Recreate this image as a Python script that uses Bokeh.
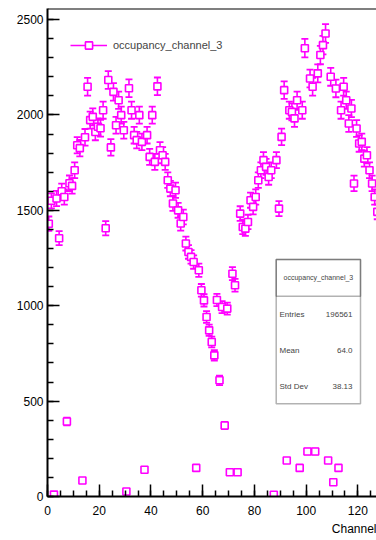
import numpy as np
from bokeh.plotting import figure
from bokeh.models import (Range1d, FixedTicker, Legend, LegendItem, Label, Title,
                          BoxAnnotation, Span, ColumnDataSource)
from bokeh.embed import file_html
from bokeh.resources import INLINE

# Occupancy per readout channel (bin contents of a 128-bin histogram)
channels = list(range(128))
counts = [
    1430, 1550, 10, 1562, 1354, 1600, 1570, 393, 1642, 1628,
    1710, 1841, 1826, 84, 1883, 2148, 1973, 1990, 1911, 1938,
    1930, 2025, 1406, 2183, 1830, 2121, 1946, 2077, 1999, 1920,
    26, 2140, 2025, 1894, 1868, 1999, 1859, 140, 1894, 1780,
    1999, 1754, 2150, 1815, 1789, 1754, 1658, 1614, 1536, 1605,
    1500, 1431, 1465, 1326, 1282, 1256, 1229, 150, 1186, 1081,
    1028, 941, 871, 810, 740, 1030, 609, 993, 372, 985,
    127, 1168, 1107, 127, 1483, 1413, 1404, 1439, 1553, 1518,
    1570, 1658, 1710, 1763, 1728, 1675, 1710, 9, 1763, 1509,
    1885, 2130, 189, 2025, 2016, 1982, 2077, 150, 2025, 2350,
    236, 2191, 2148, 236, 2218, 2314, 2366, 2427, 189, 2200,
    75, 2139, 150, 2025, 2148, 2077, 1955, 2034, 1641, 1929,
    1850, 1859, 1771, 1789, 1710, 1641, 1570, 1492,
]

x_ticks = [0, 20, 40, 60, 80, 100, 120]
y_ticks = [0, 500, 1000, 1500, 2000, 2500]
hist_name = "occupancy_channel_3"
x_title = "Channel"
stats_labels = ["Entries", "Mean", "Std Dev"]
stats_values = ["196561", "64.0", "38.13"]

X_MAX = 127.2
Y_MAX = 2558
MAGENTA = "#ff00ff"
FONT = "Liberation Sans"

centers = np.array(channels, dtype=float) + 0.5
vals = np.array(counts, dtype=float)
errs = np.sqrt(vals)
src = ColumnDataSource(dict(x=centers, y=vals, lo=vals - errs, hi=vals + errs))

p = figure(width=376, height=540, x_range=Range1d(0, X_MAX), y_range=Range1d(0, Y_MAX),
           output_backend="svg", toolbar_location=None,
           min_border_left=47, min_border_right=0, min_border_top=8, min_border_bottom=44)
p.background_fill_color = "white"
p.border_fill_color = "white"
p.outline_line_color = None
p.xgrid.visible = False
p.ygrid.visible = False

for ax in (p.xaxis[0], p.yaxis[0]):
    ax.axis_line_color = "black"
    ax.axis_line_width = 2
    ax.major_tick_line_color = "black"
    ax.major_tick_line_width = 1.5
    ax.minor_tick_line_color = "black"
    ax.minor_tick_line_width = 1.5
    ax.major_tick_in = 12
    ax.major_tick_out = 0
    ax.minor_tick_in = 6
    ax.minor_tick_out = 0
    ax.major_label_text_font = FONT
    ax.major_label_text_font_size = "12px"
    ax.major_label_text_color = "black"

p.xaxis.ticker = FixedTicker(ticks=x_ticks, minor_ticks=list(range(0, 130, 5)))
p.yaxis.ticker = FixedTicker(ticks=y_ticks, minor_ticks=list(range(0, 2600, 100)))
p.xaxis.major_label_standoff = 9
p.yaxis.major_label_standoff = 4

# x axis title, right-aligned under the end of the axis
p.add_layout(Title(text=x_title, align="right", standoff=5, offset=0,
                   text_font=FONT, text_font_size="12px", text_font_style="normal",
                   text_color="black"), "below")

# frame top border
p.add_layout(Span(location=Y_MAX, dimension="width", line_color="black", line_width=2))

# error bars with end caps, then open square markers
bars = p.segment(x0="x", y0="lo", x1="x", y1="hi", source=src, line_color=MAGENTA, line_width=1.6)
p.scatter(x="x", y="lo", source=src, marker="dash", size=7, line_color=MAGENTA, line_width=1.8)
p.scatter(x="x", y="hi", source=src, marker="dash", size=7, line_color=MAGENTA, line_width=1.8)
squares = p.scatter(x="x", y="y", source=src, marker="square", size=7,
                    line_color=MAGENTA, fill_color="white", line_width=1.6)

legend = Legend(items=[LegendItem(label=hist_name, renderers=[bars, squares])],
                location=(23, 442), padding=0, margin=0, spacing=0,
                glyph_width=37, glyph_height=18, label_height=18, label_standoff=6,
                label_text_font=FONT, label_text_font_size="11px",
                border_line_color=None, background_fill_alpha=0)
p.add_layout(legend)

# statistics box
p.add_layout(BoxAnnotation(left=228.7, right=313, top=237, bottom=92.7,
                           left_units="screen", right_units="screen",
                           top_units="screen", bottom_units="screen",
                           fill_color="white", fill_alpha=1,
                           line_color="black", line_width=1.5))
p.add_layout(BoxAnnotation(left=228.7, right=313, top=237, bottom=200.3,
                           left_units="screen", right_units="screen",
                           top_units="screen", bottom_units="screen",
                           fill_alpha=0, line_color="black", line_width=1.5))
p.add_layout(Label(x=270.9, y=219, x_units="screen", y_units="screen", text=hist_name,
                   text_font=FONT, text_font_size="7px", text_align="center",
                   text_baseline="middle"))
for name, val, ys in zip(stats_labels, stats_values, [182.5, 146.5, 110]):
    p.add_layout(Label(x=232, y=ys, x_units="screen", y_units="screen", text=name,
                       text_font=FONT, text_font_size="8px", text_align="left",
                       text_baseline="middle"))
    p.add_layout(Label(x=305, y=ys, x_units="screen", y_units="screen", text=val,
                       text_font=FONT, text_font_size="8px", text_align="right",
                       text_baseline="middle"))

open("out.html", "w").write(file_html(p, INLINE))
